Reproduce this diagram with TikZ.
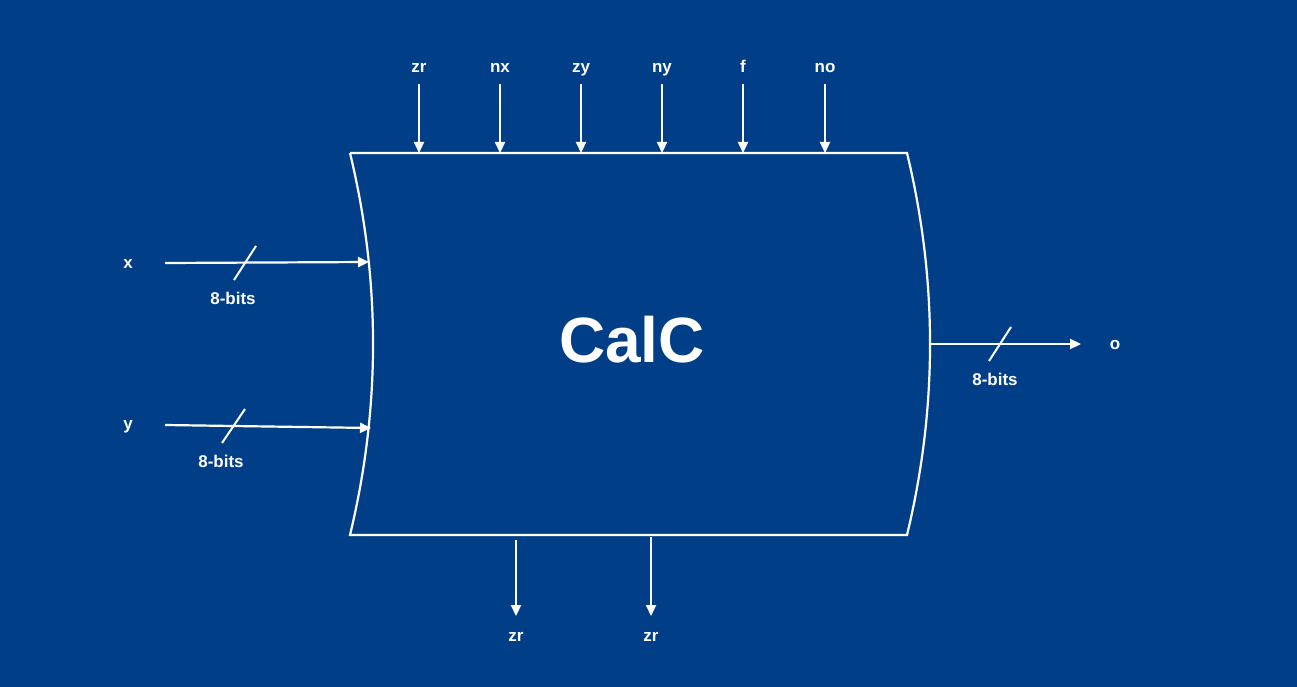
\documentclass[tikz,border=0pt]{standalone}
\usepackage{fontspec}
\setmainfont{Liberation Sans}
\usetikzlibrary{arrows.meta}
\definecolor{bg}{RGB}{0,63,136}
\begin{document}
\begin{tikzpicture}[x=1pt,y=-1pt,
  wire/.style={draw=white,line width=2.2pt,-{Triangle[length=11pt,width=10pt]}},
  edge/.style={draw=white,line width=2.2pt},
  lbl/.style={text=white,font=\bfseries\fontsize{17}{17}\selectfont,inner sep=0pt},
  slash/.style={draw=white,line width=2pt}]
\fill[bg] (0,0) rectangle (1297,687);
\useasboundingbox (0,0) rectangle (1297,687);
% body
\coordinate (tl) at (350,153);
\coordinate (tr) at (907,153);
\coordinate (bl) at (350,535);
\coordinate (br) at (907,535);
\draw[edge] (tl) -- (tr) .. controls (937.7,280.3) and (937.7,407.7) .. (br) -- (bl) .. controls (380.7,407.7) and (380.7,280.3) .. (tl);
\node[lbl,font=\bfseries\fontsize{64}{64}\selectfont] (calc) at (632,340) {CalC};
% top inputs
\foreach \n/\x/\t in {a/419/zr,b/500/nx,c/581/zy,d/662/ny,e/743/f,f/825/no}{
  \node[lbl,anchor=base] (t\n) at (\x,73) {\t};
  \coordinate (ts\n) at (\x,84);
  \coordinate (te\n) at (\x,153);
  \draw[wire] (ts\n) -- (te\n);
}
% bottom outputs
\foreach \n/\x/\y in {a/516/540,b/651/537}{
  \coordinate (bs\n) at (\x,\y);
  \coordinate (be\n) at (\x,616);
  \draw[wire] (bs\n) -- (be\n);
  \node[lbl,anchor=base] (bl\n) at (\x,641) {zr};
}
% x input
\node[lbl] (x) at (128,264) {x};
\coordinate (xs) at (165,263);
\coordinate (xe) at (369,262);
\draw[wire] (xs) -- (xe);
\coordinate (xa) at (256,246);
\coordinate (xb) at (234,280);
\draw[slash] (xa) -- (xb);
\node[lbl] (xl) at (233,298) {8-bits};
% y input
\node[lbl] (y) at (128,427) {y};
\coordinate (ys) at (165,425);
\coordinate (ye) at (371,428);
\draw[wire] (ys) -- (ye);
\coordinate (ya) at (245,409);
\coordinate (yb) at (222,443);
\draw[slash] (ya) -- (yb);
\node[lbl] (yl) at (221,461) {8-bits};
% output
\coordinate (os) at (930,344);
\coordinate (oe) at (1081,344);
\draw[wire] (os) -- (oe);
\coordinate (oa) at (1011,327);
\coordinate (ob) at (989,361);
\draw[slash] (oa) -- (ob);
\node[lbl] (ol) at (995,379) {8-bits};
\node[lbl] (o) at (1115,345) {o};
\end{tikzpicture}
\end{document}
